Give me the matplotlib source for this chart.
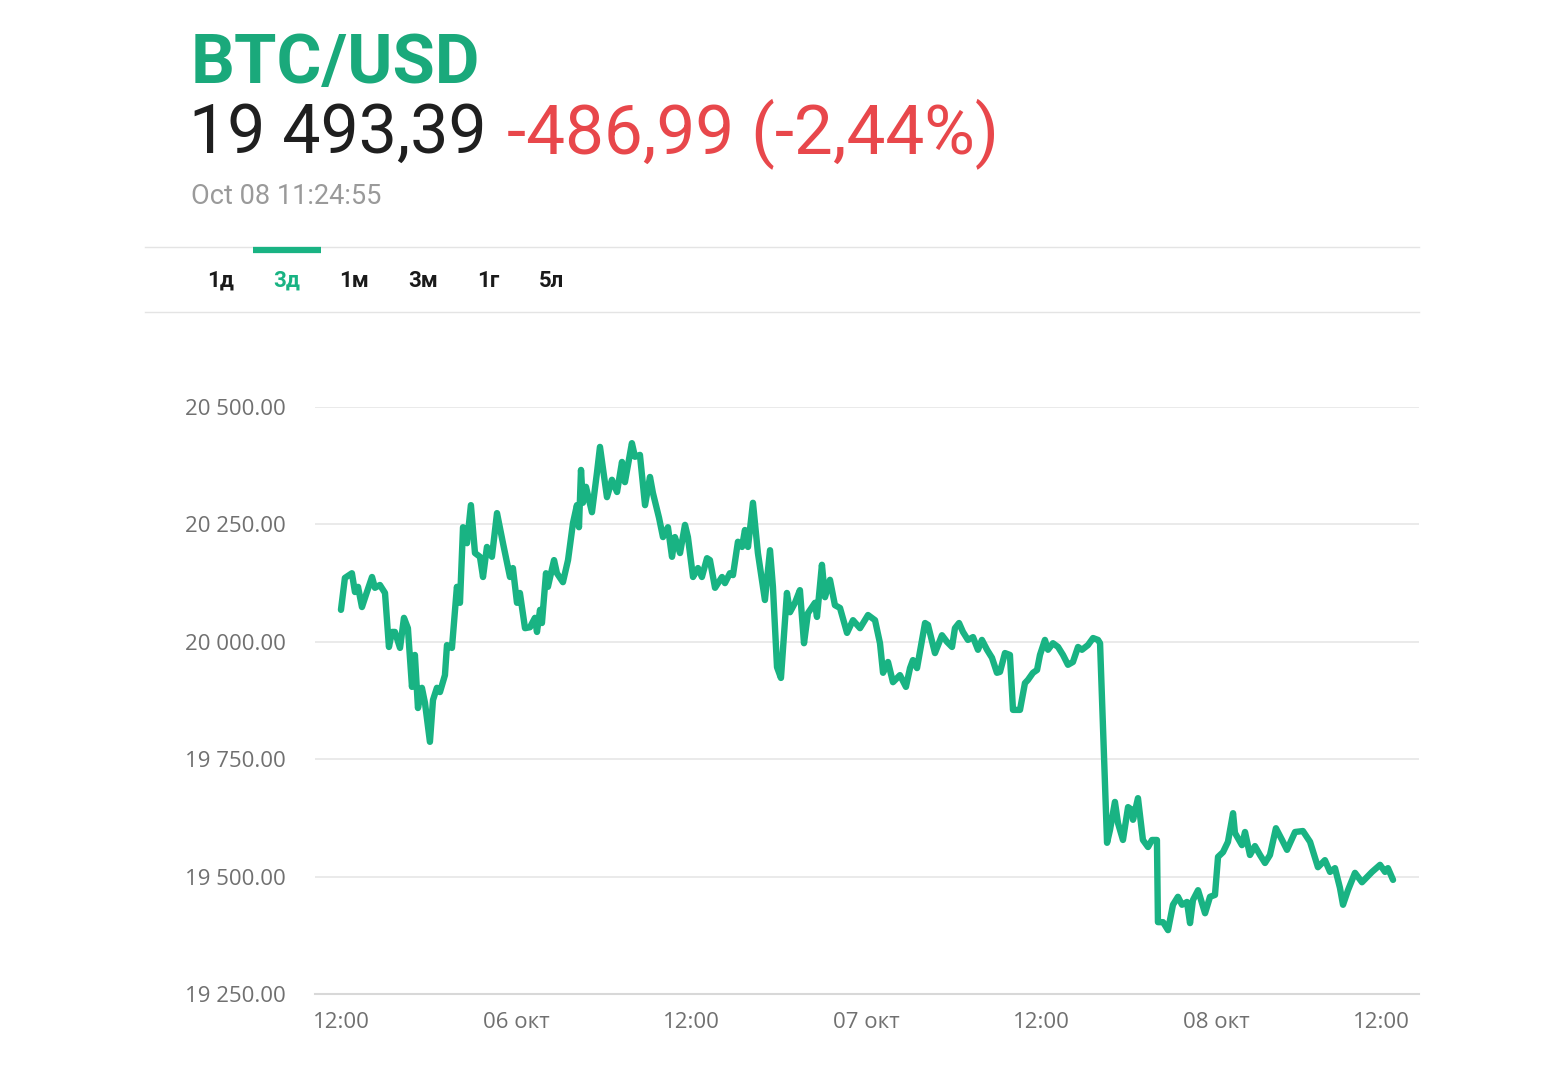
import numpy as np
import matplotlib
matplotlib.use("Agg")
import matplotlib.pyplot as plt
import matplotlib.transforms as mtransforms

# hours after 05 Oct 12:00 and BTC/USD price
hours = [0, 0.27, 0.75, 0.96, 1.17, 1.44, 1.78, 2.13, 2.33, 2.67, 3.02, 3.29, 3.50, 3.70,
         4.05, 4.32, 4.59, 4.87, 5.07, 5.28, 5.55, 5.76, 6.10, 6.31, 6.58, 6.79, 7.13, 7.27,
         7.61, 7.95, 8.16, 8.37, 8.64, 8.91, 9.19, 9.53, 9.74, 10.01, 10.35, 10.70, 11.11,
         11.59, 11.79, 12.07, 12.27, 12.62, 12.96, 13.30, 13.44, 13.65, 13.78, 14.06, 14.19,
         14.61, 14.81, 15.22, 15.57, 15.91, 16.18, 16.32, 16.46, 16.59, 16.80, 17.21, 17.55,
         17.76, 18.24, 18.58, 18.93, 19.27, 19.47, 19.95, 20.16, 20.50, 20.85, 21.19, 21.39,
         21.81, 22.08, 22.42, 22.70, 22.90, 23.25, 23.59, 23.79, 24.14, 24.48, 24.75, 25.10,
         25.30, 25.65, 26.13, 26.33, 26.67, 26.88, 27.22, 27.50, 27.70, 27.91, 28.25, 28.59,
         29.07, 29.42, 29.62, 29.90, 30.17, 30.58, 30.79, 31.13, 31.47, 31.75, 32.02, 32.50,
         32.64, 32.98, 33.19, 33.53, 33.87, 34.22, 34.70, 35.11, 35.59, 36.14, 36.62, 36.96,
         37.17, 37.51, 37.85, 38.33, 38.74, 39.02, 39.22, 39.50, 40.05, 40.25, 40.73, 41.21,
         41.55, 41.90, 42.10, 42.38, 42.65, 42.99, 43.34, 43.68, 43.95, 44.30, 44.64, 44.98,
         45.19, 45.53, 45.87, 46.08, 46.56, 46.90, 47.11, 47.45, 47.73, 47.93, 48.27, 48.48,
         48.82, 49.17, 49.51, 49.85, 50.19, 50.54, 50.81, 51.22, 51.57, 51.91, 52.05, 52.53,
         52.73, 53.07, 53.28, 53.62, 53.97, 54.24, 54.31, 54.65, 54.99, 55.34, 55.61, 55.95,
         56.02, 56.37, 56.71, 57.05, 57.39, 57.67, 58.01, 58.22, 58.42, 58.77, 59.25, 59.59,
         59.93, 60.14, 60.48, 60.82, 61.17, 61.30, 61.78, 61.99, 62.33, 62.67, 63.02, 63.36,
         63.70, 64.11, 64.53, 64.87, 65.42, 65.96, 66.45, 66.99, 67.47, 67.82, 68.16, 68.50,
         68.71, 69.05, 69.53, 70.01, 70.35, 70.70, 71.25, 71.59, 71.79, 72.14]
prices = [20068, 20136, 20146, 20106, 20117, 20074, 20106, 20138, 20115, 20121, 20104, 19989,
          20021, 20021, 19987, 20051, 20029, 19904, 19972, 19859, 19902, 19870, 19787, 19876,
          19902, 19893, 19929, 19993, 19987, 20117, 20083, 20244, 20210, 20291, 20189, 20181,
          20138, 20202, 20181, 20274, 20210, 20138, 20157, 20083, 20104, 20029, 20031, 20051,
          20021, 20068, 20040, 20146, 20117, 20174, 20146, 20127, 20174, 20253, 20291, 20244,
          20366, 20296, 20330, 20276, 20359, 20415, 20308, 20345, 20319, 20383, 20340, 20423,
          20394, 20398, 20291, 20351, 20317, 20264, 20223, 20244, 20181, 20223, 20189, 20249,
          20223, 20138, 20157, 20138, 20178, 20174, 20115, 20138, 20125, 20146, 20142, 20213,
          20202, 20238, 20202, 20296, 20189, 20089, 20195, 20117, 19946, 19923, 20104, 20063,
          20083, 20110, 19997, 20061, 20083, 20053, 20164, 20095, 20132, 20078, 20072, 20019,
          20046, 20029, 20057, 20046, 19997, 19934, 19957, 19914, 19929, 19904, 19944, 19961,
          19944, 20040, 20036, 19976, 20014, 20000, 19989, 20029, 20040, 20021, 20004, 20010,
          19983, 20004, 19983, 19966, 19934, 19936, 19976, 19972, 19855, 19855, 19912, 19919,
          19934, 19940, 19972, 20004, 19983, 19997, 19989, 19972, 19951, 19957, 19989, 19983,
          19993, 20008, 20004, 19997, 19572, 19599, 19659, 19614, 19578, 19648, 19642, 19621,
          19667, 19578, 19563, 19578, 19578, 19403, 19403, 19386, 19440, 19457, 19440, 19446,
          19401, 19450, 19471, 19422, 19457, 19461, 19542, 19552, 19574, 19635, 19593, 19567,
          19595, 19546, 19565, 19546, 19529, 19546, 19603, 19578, 19557, 19595, 19597, 19574,
          19520, 19535, 19510, 19518, 19476, 19440, 19471, 19508, 19488, 19499, 19510, 19525,
          19510, 19518, 19493]

y_ticks = [19250, 19500, 19750, 20000, 20250, 20500]
x_ticks = [0, 12, 24, 36, 48, 60, 72]
x_labels = ['12:00', '06 окт', '12:00', '07 окт', '12:00', '08 окт', '12:00']
tabs = ['1д', '3д', '1м', '3м', '1г', '5л']

green = '#19b383'
W, H = 1561, 1083
fig = plt.figure(figsize=(W / 100, H / 100), dpi=100)

def fx(px):
    return px / W

def fy(py):
    return 1 - py / H

# header
fig.text(fx(191), fy(83), 'BTC/USD', fontsize=49.5, fontweight='bold', color='#1aa97b',
         family='Roboto', va='baseline')
fig.text(fx(189), fy(153), '19 493,39', fontsize=49, color='#1f1f1f',
         family='Roboto', va='baseline')
fig.text(fx(507), fy(153), '-486,99 (-2,44%)', fontsize=49.8, color='#e8474b',
         family='Roboto', va='baseline')
fig.text(fx(191), fy(204), 'Oct 08 11:24:55', fontsize=19.5, color='#9a9a9a',
         family='Roboto', va='baseline')

# tab bar
fig.add_artist(plt.Line2D([fx(145), fx(1419)], [fy(247), fy(247)], color='#e4e4e4', lw=1))
fig.add_artist(plt.Line2D([fx(145), fx(1419)], [fy(312), fy(312)], color='#e4e4e4', lw=1))
fig.add_artist(plt.Line2D([fx(253), fx(321)], [fy(249.5), fy(249.5)], color=green, lw=4.5,
                          solid_capstyle='butt'))
tab_x = [221, 287, 354, 423, 488, 551]
for lab, tx in zip(tabs, tab_x):
    fig.text(fx(tx), fy(287), lab, fontsize=16, fontweight='bold', ha='center', va='baseline',
             family='Roboto', color=green if lab == '3д' else '#1a1a1a')

# chart
ax = fig.add_axes([fx(315), fy(994), fx(1419) - fx(315), fy(407) - fy(994)])
ax.plot(hours, prices, color=green, lw=4.6, solid_joinstyle='round', solid_capstyle='round')
ax.set_xlim(-1.78, 73.92)
ax.set_ylim(19250, 20500)
ax.set_yticks(y_ticks)
ax.set_yticklabels([f'{v:,.2f}'.replace(',', ' ') for v in y_ticks])
ax.set_xticks(x_ticks)
ax.set_xticklabels(x_labels)
ax.grid(axis='y', color='#e6e6e6', lw=1.2)
ax.set_axisbelow(True)
for s in ['top', 'right', 'left']:
    ax.spines[s].set_visible(False)
ax.spines['bottom'].set_color('#d8d8d8')
ax.spines['bottom'].set_linewidth(1.5)
ax.tick_params(axis='both', length=0, labelsize=16, labelcolor='#707070')
ax.tick_params(axis='y', pad=21)
ax.tick_params(axis='x', pad=13)
for lab in ax.get_xticklabels() + ax.get_yticklabels():
    lab.set_family('Open Sans')
last = ax.get_xticklabels()[-1]
last.set_transform(last.get_transform() + mtransforms.ScaledTranslation(-0.1, 0, fig.dpi_scale_trans))

fig.savefig('out.png', dpi=100, facecolor='white')
